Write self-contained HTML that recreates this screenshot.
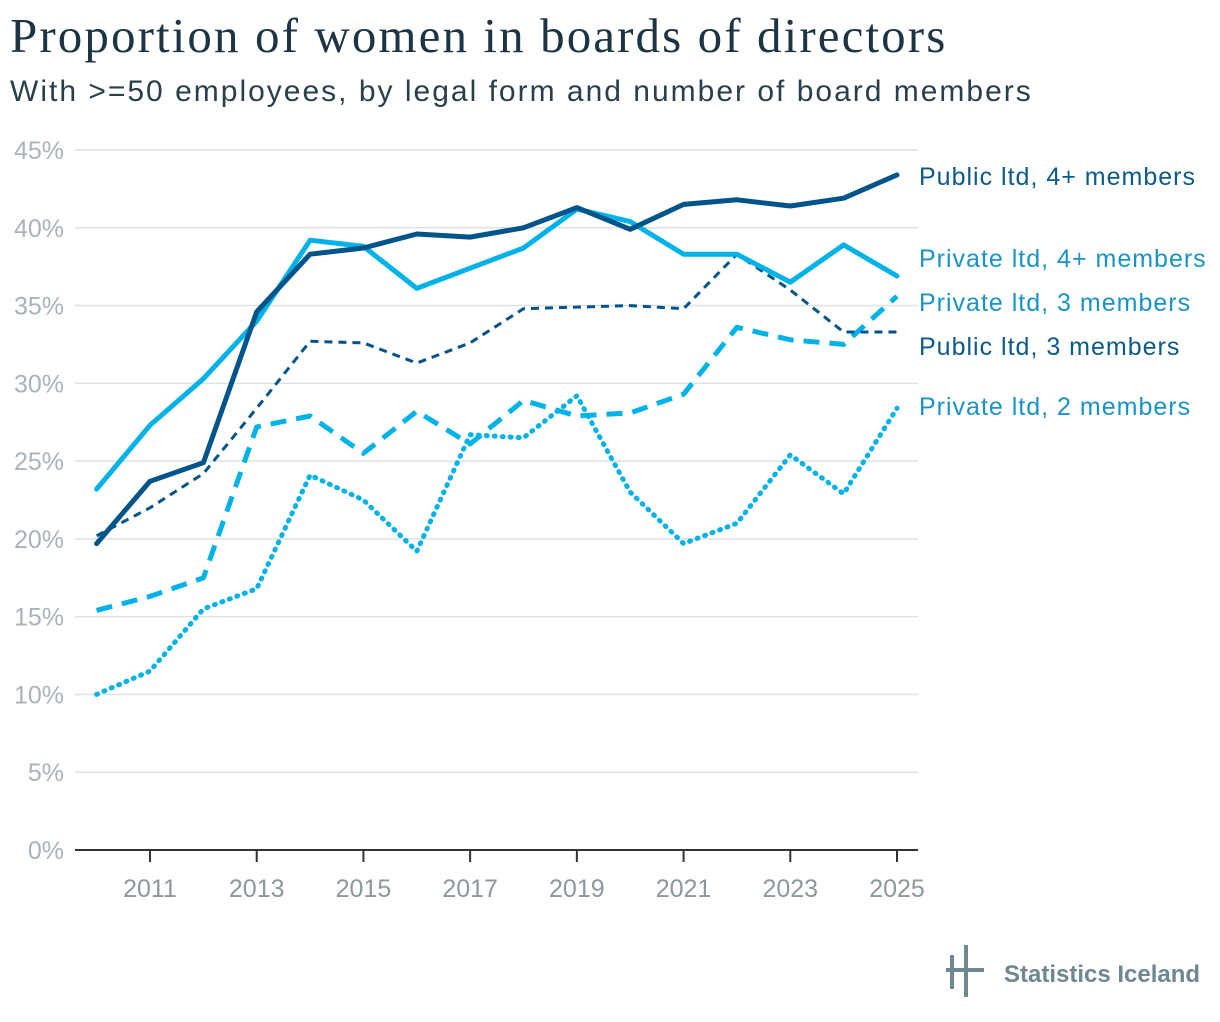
<!DOCTYPE html>
<html><head><meta charset="utf-8">
<style>
body{margin:0;background:#fff;width:1220px;height:1022px;overflow:hidden;font-family:"Liberation Sans",sans-serif;}
#title{position:absolute;left:10px;top:7px;font-family:"Liberation Serif",serif;font-size:49px;letter-spacing:2.1px;color:#1c3443;margin:0;font-weight:normal;}
#subtitle{position:absolute;left:10px;top:75px;font-size:30px;letter-spacing:2px;color:#2a3f4c;font-weight:300;}
svg{position:absolute;left:0;top:0;}
</style></head><body>
<h1 id="title">Proportion of women in boards of directors</h1>
<div id="subtitle">With &gt;=50 employees, by legal form and number of board members</div>
<svg id="chart" width="1220" height="1022"></svg>
<script>
const years=[2010,2011,2012,2013,2014,2015,2016,2017,2018,2019,2020,2021,2022,2023,2024,2025];
const yTicks=[0,5,10,15,20,25,30,35,40,45];
const xTicks=[2011,2013,2015,2017,2019,2021,2023,2025];
const publicLtd4=[19.7,23.7,24.9,34.6,38.3,38.7,39.6,39.4,40.0,41.3,39.9,41.5,41.8,41.4,41.9,43.4];
const privateLtd4=[23.2,27.3,30.3,34.0,39.2,38.8,36.1,37.4,38.7,41.2,40.4,38.3,38.3,36.5,38.9,36.9];
const publicLtd3=[20.2,22.0,24.2,28.4,32.7,32.6,31.3,32.6,34.8,34.9,35.0,34.8,38.3,36.0,33.3,33.3];
const privateLtd3=[15.4,16.3,17.5,27.2,27.9,25.5,28.2,26.1,28.9,27.9,28.1,29.3,33.6,32.8,32.5,35.6];
const privateLtd2=[10.0,11.5,15.5,16.8,24.1,22.5,19.2,26.7,26.5,29.2,23.0,19.7,21.0,25.4,22.9,28.4];
const seriesNames=["Public ltd, 4+ members","Private ltd, 4+ members","Private ltd, 3 members","Public ltd, 3 members","Private ltd, 2 members"];

const NS="http://www.w3.org/2000/svg";
const svg=document.getElementById('chart');
const X=y=>150+(y-2011)*(747/14);
const Y=v=>850-v*(700/45);
function el(t,a,p){const e=document.createElementNS(NS,t);for(const k in a)e.setAttribute(k,a[k]);(p||svg).appendChild(e);return e;}
yTicks.forEach(t=>{
  const g=el('line',{x1:75,x2:918,y1:Y(t),y2:Y(t),stroke:t===0?'#333':'#dde2e5','stroke-width':t===0?2:1.5});
  
  
  const tx=el('text',{x:64,y:Y(t)+9,'text-anchor':'end','font-size':25,fill:'#a9b3b9','font-family':'Liberation Sans, sans-serif'});
  tx.textContent=t+'%';
  
  
});
xTicks.forEach(t=>{
  const l=el('line',{x1:X(t),x2:X(t),y1:850,y2:862,stroke:'#333','stroke-width':2});
  
  
  const tx=el('text',{x:X(t),y:897,'text-anchor':'middle','font-size':25,fill:'#8c979e','font-family':'Liberation Sans, sans-serif'});
  tx.textContent=t;
  
  
});
const dark='#00548a',light='#00b2e8';
const specs=[
 [privateLtd2,light,5,'1 7','round','series-private-2'],
 [privateLtd3,light,5,'16 10','butt','series-private-3'],
 [publicLtd3,dark,3,'8 6','butt','series-public-3'],
 [privateLtd4,light,5,'','round','series-private-4plus'],
 [publicLtd4,dark,5,'','round','series-public-4plus']];
specs.forEach(s=>{
  const d=s[0].map((v,i)=>(i?'L':'M')+X(years[i]).toFixed(1)+','+Y(v).toFixed(1)).join('');
  const p=el('path',{d:d,fill:'none',stroke:s[1],'stroke-width':s[2],'stroke-dasharray':s[3],'stroke-linecap':s[4],'stroke-linejoin':'round'});
  
  
});
const labels=[[seriesNames[0],185,'#0b5a89'],[seriesNames[1],267,'#1a93c6'],[seriesNames[2],311,'#1a93c6'],[seriesNames[3],355,'#0b5a89'],[seriesNames[4],415,'#1a93c6']];
labels.forEach(l=>{
  const t=el('text',{x:919,y:l[1],'font-size':25,'letter-spacing':1,fill:l[2],'font-family':'Liberation Sans, sans-serif'});
  t.textContent=l[0];
  
  
});
const logo=el('g',{});


el('rect',{x:950,y:955,width:4,height:34,fill:'#6f8791'},logo);
el('rect',{x:964,y:945,width:4,height:52,fill:'#6f8791'},logo);
el('rect',{x:946,y:968,width:38,height:4,fill:'#6f8791'},logo);
const lt=el('text',{x:1004,y:982,'font-size':24,fill:'#6f8791','font-weight':'bold','font-family':'Liberation Sans, sans-serif'},logo);
lt.textContent='Statistics Iceland';
</script>
</body></html>
